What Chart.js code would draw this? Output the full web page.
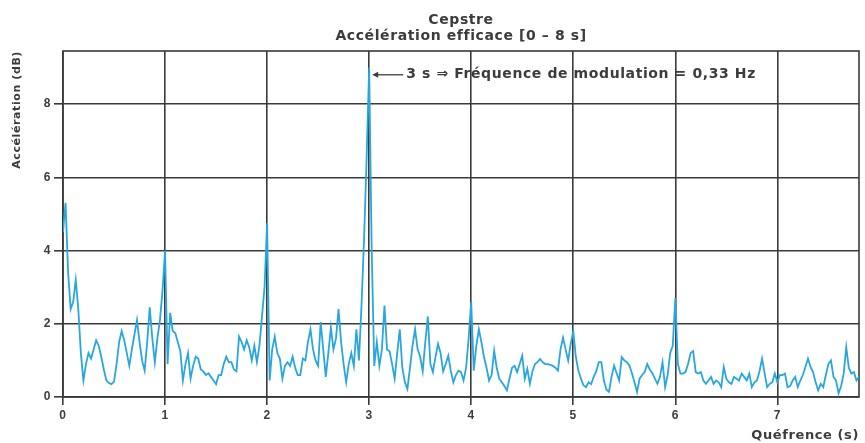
<!DOCTYPE html>
<html>
<head>
<meta charset="utf-8">
<script src="https://cdn.jsdelivr.net/npm/chart.js@4"></script>
<style>
  html, body { margin: 0; padding: 0; background: #fff; }
  canvas { display: block; }
</style>
</head>
<body>
<canvas id="cepstre" width="865" height="443"></canvas>
<script>
const quefrencyStep = 0.025; // s
const seg0 = [4.5, 5.3, 3.4, 2.4, 2.6, 3.2, 2.4, 1.2, 0.45, 0.9,
  1.2, 1.05, 1.3, 1.55, 1.4, 1.1, 0.75, 0.45, 0.38, 0.35,
  0.42, 0.9, 1.5, 1.8, 1.55, 1.2, 0.85, 1.3, 1.7, 2.1,
  1.5, 1.0, 0.72, 1.5, 2.45, 1.6, 0.95, 1.6, 2.1, 2.9];
const seg1 = [4.0, 0.9, 2.3, 1.8, 1.75, 1.5, 1.25, 0.45, 0.9, 1.2,
  0.5, 0.85, 1.1, 1.05, 0.75, 0.7, 0.6, 0.65, 0.55, 0.45,
  0.35, 0.6, 0.6, 0.9, 1.1, 0.95, 0.95, 0.75, 0.7, 1.65,
  1.5, 1.3, 1.55, 1.35, 1.0, 1.4, 0.95, 1.4, 2.2, 3.0];
const seg2 = [4.75, 0.45, 1.3, 1.65, 1.2, 1.05, 0.5, 0.85, 0.95, 0.85,
  1.1, 0.8, 0.6, 0.6, 1.05, 1.0, 1.5, 1.85, 1.3, 1.0,
  0.85, 2.05, 1.3, 0.55, 1.2, 1.9, 1.3, 1.6, 2.4, 1.5,
  0.9, 0.4, 0.9, 1.2, 0.85, 1.85, 1.0, 2.5, 4.3, 6.5];
const seg3 = [9.0, 4.0, 0.85, 1.5, 0.85, 1.3, 2.5, 1.3, 1.25, 0.9,
  0.5, 1.2, 1.85, 0.8, 0.4, 0.22, 0.8, 1.4, 1.85, 1.3,
  1.1, 0.7, 1.5, 2.2, 0.9, 0.68, 1.1, 1.45, 1.2, 0.7,
  0.9, 1.13, 0.72, 0.4, 0.6, 0.72, 0.68, 0.45, 0.8, 1.6];
const seg4 = [2.6, 0.72, 1.4, 1.85, 1.5, 1.1, 0.8, 0.45, 0.6, 1.26,
  0.8, 0.5, 0.4, 0.3, 0.18, 0.5, 0.8, 0.85, 0.68, 0.9,
  1.13, 0.5, 0.77, 0.36, 0.7, 0.9, 0.95, 1.04, 0.95, 0.9,
  0.9, 0.88, 0.85, 0.8, 0.72, 1.3, 1.62, 1.3, 1.0, 1.45];
const seg5 = [1.8, 1.1, 0.72, 0.5, 0.32, 0.27, 0.4, 0.35, 0.55, 0.7,
  0.95, 0.95, 0.45, 0.2, 0.14, 0.55, 0.86, 0.65, 0.45, 1.09,
  1.0, 0.95, 0.86, 0.65, 0.4, 0.14, 0.5, 0.6, 0.68, 0.9,
  0.75, 0.65, 0.5, 0.36, 0.55, 0.95, 0.27, 0.6, 1.2, 1.4];
const seg6 = [2.7, 0.9, 0.64, 0.64, 0.68, 0.9, 1.2, 1.25, 0.68, 0.64,
  0.68, 0.45, 0.36, 0.45, 0.55, 0.36, 0.45, 0.4, 0.27, 0.82,
  0.5, 0.4, 0.36, 0.55, 0.5, 0.45, 0.64, 0.55, 0.45, 0.64,
  0.27, 0.4, 0.45, 0.7, 1.05, 0.65, 0.27, 0.36, 0.4, 0.64];
const seg7 = [0.4, 0.6, 0.6, 0.64, 0.27, 0.3, 0.45, 0.55, 0.27, 0.45,
  0.6, 0.82, 1.05, 0.82, 0.68, 0.4, 0.18, 0.36, 0.27, 0.6,
  0.9, 1.0, 0.55, 0.45, 0.1, 0.3, 0.64, 1.36, 0.8, 0.64,
  0.68, 0.45, 0.55];

const xTicks = [0, 1, 2, 3, 4, 5, 6, 7];
const yTicks = [0, 2, 4, 6, 8];
const titleLines = ['Cepstre', 'Accélération efficace [0 – 8 s]'];
const noteText = '3 s \u21D2 Fréquence de modulation = 0,33 Hz';
const noteAt = [3.03, 8.8]; // arrow tip (s, dB)

const accelDb = [].concat(seg0, seg1, seg2, seg3, seg4, seg5, seg6, seg7);
const points = accelDb.map((v, i) => ({ x: +(i * quefrencyStep).toFixed(3), y: v }));

const INK = '#3c3c3c';
const FONT = '"Liberation Sans", Arial, sans-serif';
const WIDE = '"DejaVu Sans", Verdana, sans-serif';

// wide-set lettering like the scanned figure
const spacingPlugin = {
  id: 'spacing',
  beforeDraw(chart) { chart.ctx.letterSpacing = '0.6px'; },
  afterDraw(chart) { chart.ctx.letterSpacing = '0px'; }
};

// full frame round the plot area (top and right edges are not ticks)
const framePlugin = {
  id: 'frame',
  beforeDatasetsDraw(chart) {
    const { ctx, chartArea: a } = chart;
    ctx.save();
    ctx.strokeStyle = '#3a3a3a';
    ctx.lineWidth = 1.6;
    ctx.strokeRect(a.left, a.top, a.right - a.left, a.bottom - a.top);
    ctx.restore();
  }
};

// arrow + text pointing at the 3 s peak
const notePlugin = {
  id: 'note',
  afterDatasetsDraw(chart) {
    const { ctx, scales } = chart;
    const tx = scales.x.getPixelForValue(noteAt[0]);
    const ty = scales.y.getPixelForValue(noteAt[1]);
    ctx.save();
    ctx.strokeStyle = INK;
    ctx.fillStyle = INK;
    ctx.lineWidth = 1.3;
    ctx.beginPath();
    ctx.moveTo(tx + 4, ty);
    ctx.lineTo(tx + 31, ty);
    ctx.stroke();
    ctx.beginPath();
    ctx.moveTo(tx, ty);
    ctx.lineTo(tx + 6, ty - 3);
    ctx.lineTo(tx + 6, ty + 3);
    ctx.closePath();
    ctx.fill();
    ctx.font = 'bold 14px ' + WIDE;
    ctx.textBaseline = 'middle';
    ctx.fillText(noteText, tx + 34, ty);
    ctx.restore();
  }
};

new Chart(document.getElementById('cepstre'), {
  type: 'line',
  data: {
    datasets: [{
      data: points,
      borderColor: '#2aa6de',
      borderWidth: 1.8,
      pointRadius: 0,
      tension: 0,
      fill: false
    }]
  },
  options: {
    responsive: false,
    animation: false,
    layout: { padding: { top: 0, right: 6, left: 0, bottom: 0 } },
    plugins: {
      legend: { display: false },
      tooltip: { enabled: false },
      title: {
        display: true,
        text: titleLines,
        fullSize: false,
        color: INK,
        font: { family: WIDE, size: 14, weight: 'bold', lineHeight: 1.2 },
        padding: { top: 11.5, bottom: 5.9 }
      }
    },
    scales: {
      x: {
        type: 'linear',
        min: 0,
        max: 7.8,
        afterBuildTicks: axis => { axis.ticks = xTicks.map(v => ({ value: v })); },
        afterFit: axis => { axis.height = 46; },
        ticks: { color: INK, font: { family: FONT, size: 12, weight: 'bold' }, padding: 3, maxRotation: 0 },
        grid: { color: '#3a3a3a', lineWidth: 1.6, tickLength: 8, tickColor: '#3a3a3a' },
        border: { display: false },
        title: {
          display: true, text: 'Quéfrence (s)', align: 'end', color: INK,
          font: { family: WIDE, size: 13, weight: 'bold' }, padding: { top: 2, bottom: 0 }
        }
      },
      y: {
        min: 0,
        max: 9.45,
        afterBuildTicks: axis => { axis.ticks = yTicks.map(v => ({ value: v })); },
        afterFit: axis => { axis.width = 63; },
        ticks: { color: INK, font: { family: FONT, size: 12, weight: 'bold' }, padding: 3 },
        grid: { color: '#3a3a3a', lineWidth: 1.6, tickLength: 9, tickColor: '#3a3a3a' },
        border: { display: false },
        title: {
          display: true, text: 'Accélération (dB)', align: 'end', color: INK,
          font: { family: WIDE, size: 11, weight: 'bold' }, padding: { top: 11, bottom: 0 }
        }
      }
    }
  },
  plugins: [spacingPlugin, framePlugin, notePlugin]
});
</script>
</body>
</html>
